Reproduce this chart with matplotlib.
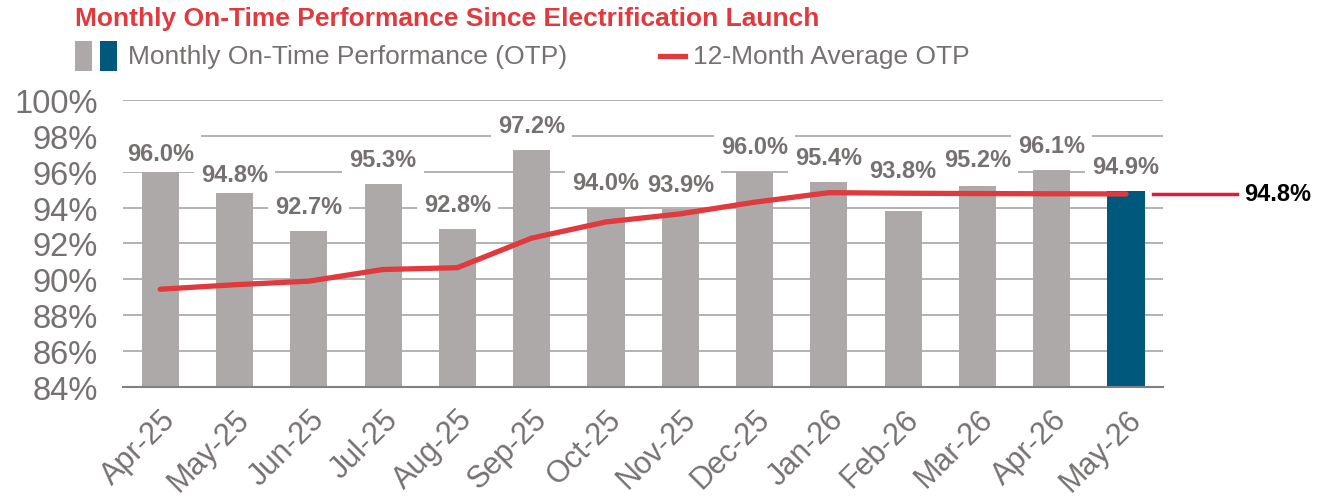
import matplotlib.pyplot as plt
from matplotlib.patches import Rectangle
from matplotlib.transforms import blended_transform_factory, ScaledTranslation

plt.rcParams['font.family'] = ['Liberation Sans', 'DejaVu Sans']

months = ['Apr-25', 'May-25', 'Jun-25', 'Jul-25', 'Aug-25', 'Sep-25', 'Oct-25',
          'Nov-25', 'Dec-25', 'Jan-26', 'Feb-26', 'Mar-26', 'Apr-26', 'May-26']
monthly_otp = [96.0, 94.8, 92.7, 95.3, 92.8, 97.2, 94.0,
               93.9, 96.0, 95.4, 93.8, 95.2, 96.1, 94.9]
avg_12m = [89.45, 89.7, 89.9, 90.55, 90.65, 92.3, 93.2,
           93.65, 94.3, 94.83, 94.8, 94.78, 94.77, 94.76]
avg_label = '94.8%'
yticks = [84, 86, 88, 90, 92, 94, 96, 98, 100]

# how far each value label sits above its bar (points)
label_lift = [5, 5, 9.5, 9.5, 9.5, 9.5, 9.5, 9.5, 9.5, 9.5, 21, 10.5, 9.5, 9.5]

GRAY = '#ADA9A8'
BLUE = '#00587C'
RED = '#E0393E'
TXT = '#767171'

fig = plt.figure(figsize=(13.29, 5.02), dpi=100)
ax = fig.add_axes([0.0926, 0.227, 0.7826, 0.572])

x = list(range(len(months)))
colors = [GRAY] * (len(months) - 1) + [BLUE]
ax.bar(x, [v - 84 for v in monthly_otp], bottom=84, width=0.5, color=colors, zorder=2)
ax.plot(x, avg_12m, color=RED, lw=3.8, solid_capstyle='round', zorder=5)

for xi, v, lift in zip(x, monthly_otp, label_lift):
    ax.annotate('{:.1f}%'.format(v), (xi, v), xytext=(0, lift), textcoords='offset points',
                ha='center', va='bottom', fontsize=17, fontweight='bold', color=TXT,
                bbox=dict(boxstyle='square,pad=0.3', fc='white', ec='none'), zorder=4)

ax.set_xlim(-0.5, len(months) - 0.5)
ax.set_ylim(84, 100)
ax.set_yticks(yticks)
ax.set_yticklabels(['{}%'.format(t) for t in yticks], fontsize=23.5, color=TXT)
ax.set_xticks(x)
ax.set_xticklabels(months, rotation=45, ha='right', rotation_mode='anchor',
                   fontsize=22, color=TXT)
shift = ScaledTranslation(-5 / 100, 0, fig.dpi_scale_trans)
for lbl in ax.get_xticklabels():
    lbl.set_transform(lbl.get_transform() + shift)
ax.tick_params(length=0)
ax.tick_params(axis='y', pad=18)
ax.tick_params(axis='x', pad=12)
ax.grid(axis='y', color='#A6A6A6', lw=1.2, zorder=0)
ax.set_axisbelow(True)
for s in ['top', 'right', 'left']:
    ax.spines[s].set_visible(False)
ax.spines['bottom'].set_color('#808080')
ax.spines['bottom'].set_linewidth(1.5)

# callout for the latest 12-month average
tr = blended_transform_factory(ax.transAxes, ax.transData)
ax.plot([0.990, 1.071], [avg_12m[-1], avg_12m[-1]], transform=tr, color='#E31837',
        lw=2.5, clip_on=False, zorder=3)
ax.text(1.078, avg_12m[-1], avg_label, transform=tr, ha='left', va='center',
        fontsize=17, fontweight='bold', color='black')

# title and legend
fig.text(0.0564, 0.962, 'Monthly On-Time Performance Since Electrification Launch',
         fontsize=19, fontweight='bold', color=RED, va='center', ha='left')
fig.patches.append(Rectangle((0.0564, 0.857), 0.0128, 0.06, transform=fig.transFigure,
                             fc=GRAY, ec='none'))
fig.patches.append(Rectangle((0.0752, 0.857), 0.0128, 0.06, transform=fig.transFigure,
                             fc=BLUE, ec='none'))
fig.text(0.0963, 0.886, 'Monthly On-Time Performance (OTP)', fontsize=19, color=TXT,
         va='center', ha='left')
fig.lines.append(plt.Line2D([0.4966, 0.5154], [0.886, 0.886], transform=fig.transFigure,
                            color=RED, lw=3.8))
fig.text(0.5214, 0.886, '12-Month Average OTP', fontsize=19, color=TXT,
         va='center', ha='left')

fig.savefig('out.png', dpi=100)
